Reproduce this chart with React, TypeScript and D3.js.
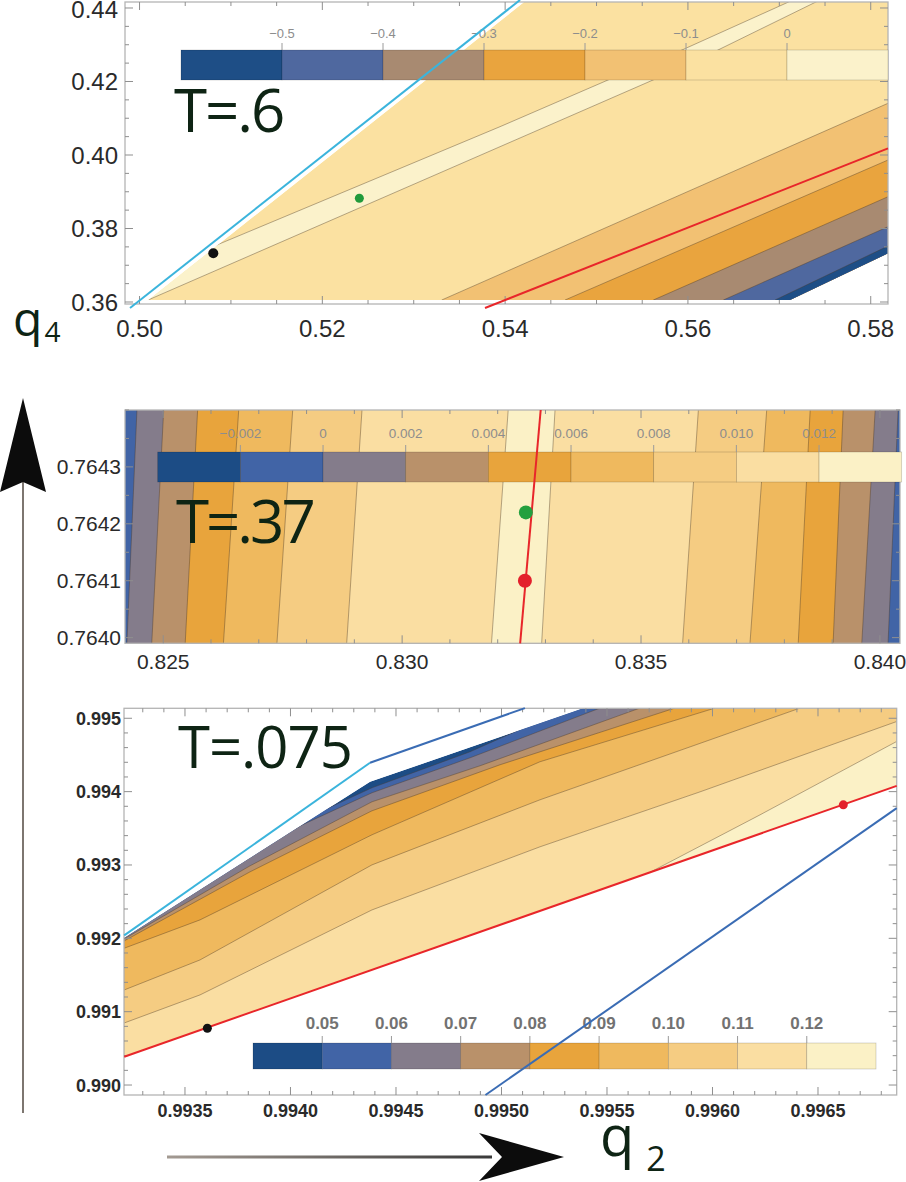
import React, { useRef, useEffect } from "react";
import * as d3 from "d3";

type Pt = [number, number];

const W = 906;
const H = 1182;

// contour palettes, dark blue -> pale yellow
const colors7 = ["#1e4e86", "#4f689f", "#a88a71", "#e9a43e", "#f2c173", "#fbe1a1", "#fbf2cb"];
const colors9 = ["#1c4c85", "#4164a6", "#847c8b", "#b9916a", "#e8a43c", "#efb95e", "#f5cc82", "#fadea2", "#fbf1c6"];

// ---------- T = .6 ----------
const topXTicks = [0.5, 0.52, 0.54, 0.56, 0.58];
const topYTicks = [0.36, 0.38, 0.4, 0.42, 0.44];
const topLevels = [-0.5, -0.4, -0.3, -0.2, -0.1, 0];
const topRegion: Pt[] = [
  [0.50096, 0.36054], [0.54207, 0.44163], [0.58189, 0.44163], [0.58189, 0.37325], [0.57117, 0.36054],
];
const topBands = [
  { c: 6, line: [[0.49787, 0.36452], [0.53944, 0.4077], [0.55126, 0.42041], [0.55935, 0.42857], [0.5715, 0.44218]] },
  { c: 5, line: [[0.50005, 0.35959], [0.53944, 0.40226], [0.55618, 0.42041], [0.56329, 0.42857], [0.57445, 0.44218]] },
  { c: 4, line: [[0.53306, 0.36054], [0.58189, 0.41407]] },
  { c: 3, line: [[0.54655, 0.36054], [0.58189, 0.39864]] },
  { c: 2, line: [[0.55621, 0.36054], [0.58189, 0.38865]] },
  { c: 1, line: [[0.56387, 0.36054], [0.58189, 0.38049]] },
  { c: 0, line: [[0.56953, 0.36054], [0.58189, 0.37524]] },
];
const topRed: Pt[] = [[0.5378, 0.35837], [0.58189, 0.40182]];
const topCyan: Pt[] = [[0.49896, 0.35837], [0.54163, 0.44218]];
const topBlackDot: Pt = [0.50807, 0.37325];
const topGreenDot: Pt = [0.52405, 0.38822];

// ---------- T = .37 ----------
const midXTicks = [0.825, 0.83, 0.835, 0.84];
const midYTicks = [0.764, 0.7641, 0.7642, 0.7643];
const midLevels = [-0.002, 0, 0.002, 0.004, 0.006, 0.008, 0.01, 0.012];
const midBottomQ2 = [0.82424, 0.82476, 0.82546, 0.82626, 0.82738, 0.82884, 0.83187, 0.83292, 0.83587, 0.83728, 0.83829, 0.83902, 0.83962, 0.84017];
const midTopQ2 = [0.82445, 0.82501, 0.82572, 0.82658, 0.82771, 0.82916, 0.83222, 0.8332, 0.8362, 0.83763, 0.83854, 0.83923, 0.8399, 0.84038];
const midRightColor = [2, 3, 4, 5, 6, 7, 8, 7, 6, 5, 4, 3, 2, 1];
const midRed: Pt[] = [[0.83247, 0.76399], [0.8329, 0.7644]];
const midGreenDot: Pt = [0.83259, 0.76422];
const midRedDot: Pt = [0.83257, 0.7641];

// ---------- T = .075 ----------
const botXTicks = [0.9935, 0.994, 0.9945, 0.995, 0.9955, 0.996, 0.9965];
const botYTicks = [0.99, 0.991, 0.992, 0.993, 0.994, 0.995];
const botLevels = [0.05, 0.06, 0.07, 0.08, 0.09, 0.1, 0.11, 0.12];
const botRegion: Pt[] = [
  [0.993212, 0.992005], [0.994377, 0.994134], [0.995391, 0.995139], [0.996873, 0.995139], [0.996873, 0.994079], [0.993212, 0.990386],
];
const botBands = [
  { c: 1, line: [[0.993212, 0.992183], [0.99414, 0.993724], [0.994386, 0.994052], [0.994851, 0.994543], [0.995277, 0.995089], [0.995348, 0.995139]] },
  { c: 2, line: [[0.993212, 0.992115], [0.994045, 0.993533], [0.994386, 0.993984], [0.994851, 0.994461], [0.995467, 0.995139]] },
  { c: 3, line: [[0.993212, 0.991992], [0.993808, 0.992988], [0.994386, 0.993861], [0.994898, 0.994352], [0.995656, 0.995139]] },
  { c: 4, line: [[0.993212, 0.991965], [0.993808, 0.992906], [0.994386, 0.993738], [0.994993, 0.994366], [0.995822, 0.995139]] },
  { c: 5, line: [[0.993212, 0.991865], [0.993571, 0.992251], [0.994386, 0.993411], [0.995182, 0.994407], [0.996012, 0.995139]] },
  { c: 6, line: [[0.993212, 0.991296], [0.993571, 0.991705], [0.994386, 0.993001], [0.995182, 0.993888], [0.996415, 0.995139]] },
  { c: 7, line: [[0.993212, 0.990846], [0.993571, 0.991228], [0.994386, 0.992387], [0.995182, 0.993247], [0.995941, 0.993997], [0.996873, 0.994956]] },
  { c: 8, line: [[0.995704, 0.9929], [0.996225, 0.993683], [0.996873, 0.994684]] },
];
const botRed: Pt[] = [[0.993212, 0.990386], [0.996873, 0.994079]];
const botCyan: Pt[] = [[0.993212, 0.99204], [0.994377, 0.994393]];
const botBlueUpper: Pt[] = [[0.994377, 0.994393], [0.995111, 0.995139]];
const botBlueLower: Pt[] = [[0.994924, 0.989864], [0.996873, 0.993775]];
const botBlackDot: Pt = [0.993606, 0.990774];
const botRedDot: Pt = [0.99662, 0.99382];

const tickFont = "'Liberation Sans', Arial, sans-serif";
const titleFont = "'Open Sans', 'Noto Sans', sans-serif";
const inkGreen = "#0e2414";

const noZero = (f) => (v) => (Math.abs(v) < 1e-12 ? "0" : f(v));

const midBands = midBottomQ2.map((b, i) => ({
  c: midRightColor[i],
  line: [[b, 0.76399], [midTopQ2[i], 0.7644]],
}));

const panels = [
  {
    id: "t06",
    box: { left: 125, right: 888, top: 2, bottom: 304 },
    xDomain: [0.49841, 0.58189], yDomain: [0.35946, 0.44163],
    xStep: 0.005, yStep: 0.005,
    xTicks: topXTicks, yTicks: topYTicks,
    xFmt: d3.format(".2f"), yFmt: d3.format(".2f"),
    labelFont: { size: 24, weight: "normal", xLabelY: 337, yLabelX: 118 },
    colors: colors7, base: 5, region: topRegion, bands: topBands,
    bar: { left: 181, right: 888, y: 50, h: 30, domain: [-0.6, 0.1], levels: topLevels, fmt: noZero(d3.format(".1f")), labelY: 38, size: 13, weight: "normal", color: "#8d8d8d" },
    lines: [
      { pts: topCyan, color: "#3bb4dc", w: 2 },
      { pts: topRed, color: "#e8262a", w: 2 },
    ],
    dots: [
      { p: topBlackDot, r: 5, fill: "#111" },
      { p: topGreenDot, r: 4.5, fill: "#219a3c" },
    ],
    title: { text: "T=.6", x: 174, y: 132, size: 60, spacing: -2 },
  },
  {
    id: "t037",
    box: { left: 125, right: 900, top: 410, bottom: 643.3 },
    xDomain: [0.8242, 0.84042], yDomain: [0.76399, 0.7644],
    xStep: 0.001, yStep: 0.00005,
    xTicks: midXTicks, yTicks: midYTicks,
    xFmt: d3.format(".3f"), yFmt: d3.format(".4f"),
    labelFont: { size: 21, weight: "normal", xLabelY: 669, yLabelX: 121 },
    colors: colors9, base: 1,
    region: [[0.8242, 0.76399], [0.8242, 0.7644], [0.84042, 0.7644], [0.84042, 0.76399]] as Pt[],
    bands: midBands,
    bar: { left: 157.7, right: 901.7, y: 452, h: 30, domain: [-0.004, 0.014], levels: midLevels, fmt: noZero(d3.format(".3f")), labelY: 438, size: 13.5, weight: "normal", color: "#8d8d8d" },
    lines: [{ pts: midRed, color: "#e8262a", w: 2 }],
    dots: [
      { p: midGreenDot, r: 7, fill: "#23a03e" },
      { p: midRedDot, r: 7, fill: "#e3202c" },
    ],
    title: { text: "T=.37", x: 176, y: 543, size: 60, spacing: -3 },
  },
  {
    id: "t0075",
    box: { left: 124, right: 896.7, top: 708.3, bottom: 1095 },
    xDomain: [0.993211, 0.996873], yDomain: [0.989864, 0.995136],
    xStep: 0.0001, yStep: 0.0002,
    xTicks: botXTicks, yTicks: botYTicks,
    xFmt: d3.format(".4f"), yFmt: d3.format(".3f"),
    labelFont: { size: 18, weight: "bold", xLabelY: 1117, yLabelX: 121 },
    colors: colors9, base: 0, region: botRegion, bands: botBands,
    bar: { left: 253, right: 876, y: 1043, h: 26, domain: [0.04, 0.13], levels: botLevels, fmt: d3.format(".2f"), labelY: 1029, size: 17, weight: "bold", color: "#727272" },
    lines: [
      { pts: botCyan, color: "#3bb4dc", w: 2 },
      { pts: botBlueUpper, color: "#3a6cb4", w: 2 },
      { pts: botBlueLower, color: "#3a6cb4", w: 2 },
      { pts: botRed, color: "#e8262a", w: 2 },
    ],
    dots: [
      { p: botBlackDot, r: 4.5, fill: "#111" },
      { p: botRedDot, r: 4.5, fill: "#e3202c" },
    ],
    title: { text: "T=.075", x: 178, y: 768, size: 58, spacing: -1 },
  },
];

function drawPanel(svg, defs, p) {
  const { left, right, top, bottom } = p.box;
  const [x0, x1] = p.xDomain;
  const [y0, y1] = p.yDomain;
  const x = d3.scaleLinear().domain(p.xDomain).range([left, right]);
  const y = d3.scaleLinear().domain(p.yDomain).range([bottom, top]);
  const line = d3.line<Pt>().x((d) => x(d[0])).y((d) => y(d[1]));

  // area right of / below a contour line, closed well outside the plot
  const closeBand = (pts: Pt[]): Pt[] => {
    const dx = x1 - x0;
    const dy = y1 - y0;
    const out = [...pts];
    const last = pts[pts.length - 1];
    if (last[1] >= y1 - 1e-7) out.push([x1 + dx, last[1]]);
    out.push([x1 + dx, y0 - dy]);
    out.push([pts[0][0], y0 - dy]);
    return out;
  };

  defs
    .append("clipPath")
    .attr("id", `region-${p.id}`)
    .append("path")
    .attr("d", line(p.region) + "Z");

  const g = svg.append("g");

  // filled contour bands
  const fills = g.append("g").attr("clip-path", `url(#region-${p.id})`);
  fills
    .append("path")
    .attr("d", line(p.region) + "Z")
    .attr("fill", p.colors[p.base]);
  p.bands.forEach((b) => {
    fills
      .append("path")
      .attr("d", line(closeBand(b.line)) + "Z")
      .attr("fill", p.colors[b.c]);
  });
  p.bands.forEach((b) => {
    fills
      .append("path")
      .attr("d", line(b.line))
      .attr("fill", "none")
      .attr("stroke", "#4a3a28")
      .attr("stroke-opacity", 0.45)
      .attr("stroke-width", 0.9);
  });

  // frame and ticks
  const frame = g.append("g");
  frame
    .append("rect")
    .attr("x", left)
    .attr("y", top)
    .attr("width", right - left)
    .attr("height", bottom - top)
    .attr("fill", "none")
    .attr("stroke", "#b4b4b4")
    .attr("stroke-width", 1.3);

  const steps = (a, b, s) => d3.range(Math.ceil(a / s - 1e-6), Math.floor(b / s + 1e-6) + 1).map((k) => k * s);
  const isMajor = (v, list) => list.some((t) => Math.abs(t - v) < 1e-9);
  steps(x0, x1, p.xStep).forEach((v) => {
    const len = isMajor(v, p.xTicks) ? 8 : 4;
    [bottom, top].forEach((edge, i) => {
      frame
        .append("line")
        .attr("x1", x(v))
        .attr("x2", x(v))
        .attr("y1", edge)
        .attr("y2", i === 0 ? edge - len : edge + len)
        .attr("stroke", "#8f8f8f")
        .attr("stroke-width", 1);
    });
  });
  steps(y0, y1, p.yStep).forEach((v) => {
    const len = isMajor(v, p.yTicks) ? 8 : 4;
    [left, right].forEach((edge, i) => {
      frame
        .append("line")
        .attr("y1", y(v))
        .attr("y2", y(v))
        .attr("x1", edge)
        .attr("x2", i === 0 ? edge + len : edge - len)
        .attr("stroke", "#8f8f8f")
        .attr("stroke-width", 1);
    });
  });

  const lf = p.labelFont;
  p.xTicks.forEach((t) => {
    g.append("text")
      .attr("x", x(t))
      .attr("y", lf.xLabelY)
      .attr("text-anchor", "middle")
      .attr("font-family", tickFont)
      .attr("font-size", lf.size)
      .attr("font-weight", lf.weight)
      .attr("fill", "#2a2a2a")
      .text(p.xFmt(t));
  });
  p.yTicks.forEach((t) => {
    g.append("text")
      .attr("x", lf.yLabelX)
      .attr("y", Math.max(y(t), 9))
      .attr("dy", "0.36em")
      .attr("text-anchor", "end")
      .attr("font-family", tickFont)
      .attr("font-size", lf.size)
      .attr("font-weight", lf.weight)
      .attr("fill", "#2a2a2a")
      .text(p.yFmt(t));
  });

  // colour legend bar
  const cb = p.bar;
  const bx = d3.scaleLinear().domain(cb.domain).range([cb.left, cb.right]);
  const edges = [cb.domain[0], ...cb.levels, cb.domain[1]];
  edges.slice(0, -1).forEach((e, i) => {
    g.append("rect")
      .attr("x", bx(e))
      .attr("y", cb.y)
      .attr("width", bx(edges[i + 1]) - bx(e))
      .attr("height", cb.h)
      .attr("fill", p.colors[i])
      .attr("stroke", "#000")
      .attr("stroke-opacity", 0.22)
      .attr("stroke-width", 0.7);
  });
  cb.levels.forEach((l) => {
    g.append("line")
      .attr("x1", bx(l))
      .attr("x2", bx(l))
      .attr("y1", cb.y - 7)
      .attr("y2", cb.y)
      .attr("stroke", "#9a9a9a")
      .attr("stroke-width", 1);
    g.append("text")
      .attr("x", bx(l))
      .attr("y", cb.labelY)
      .attr("text-anchor", "middle")
      .attr("font-family", tickFont)
      .attr("font-size", cb.size)
      .attr("font-weight", cb.weight)
      .attr("fill", cb.color)
      .text(cb.fmt(l));
  });

  // boundary curves and marked points
  p.lines.forEach((l) => {
    g.append("path")
      .attr("d", line(l.pts))
      .attr("fill", "none")
      .attr("stroke", l.color)
      .attr("stroke-width", l.w);
  });
  p.dots.forEach((d) => {
    g.append("circle")
      .attr("cx", x(d.p[0]))
      .attr("cy", y(d.p[1]))
      .attr("r", d.r)
      .attr("fill", d.fill);
  });

  g.append("text")
    .attr("x", p.title.x)
    .attr("y", p.title.y)
    .attr("font-family", titleFont)
    .attr("font-size", p.title.size)
    .attr("letter-spacing", p.title.spacing)
    .attr("fill", inkGreen)
    .text(p.title.text);
}

function drawAxesArrows(svg, defs) {
  const grad = defs
    .append("linearGradient")
    .attr("id", "shaft-h")
    .attr("gradientUnits", "userSpaceOnUse")
    .attr("x1", 167)
    .attr("x2", 492)
    .attr("y1", 0)
    .attr("y2", 0);
  grad.append("stop").attr("offset", "0%").attr("stop-color", "#a39a92");
  grad.append("stop").attr("offset", "100%").attr("stop-color", "#3a3a3a");

  // q4 arrow (vertical)
  svg
    .append("line")
    .attr("x1", 23)
    .attr("x2", 23)
    .attr("y1", 480)
    .attr("y2", 1113)
    .attr("stroke", "#7d7670")
    .attr("stroke-width", 2);
  svg
    .append("path")
    .attr("d", "M23,398 L46,492 L23,482 L0,492 Z")
    .attr("fill", "#0c0c0c");

  // q2 arrow (horizontal)
  svg
    .append("line")
    .attr("x1", 167)
    .attr("x2", 492)
    .attr("y1", 1157)
    .attr("y2", 1157)
    .attr("stroke", "url(#shaft-h)")
    .attr("stroke-width", 3);
  svg
    .append("path")
    .attr("d", "M564,1157 L479,1181 L502,1157 L479,1133 Z")
    .attr("fill", "#0c0c0c");

  const q4 = svg
    .append("text")
    .attr("x", 13)
    .attr("y", 336)
    .attr("font-family", titleFont)
    .attr("fill", inkGreen);
  q4.append("tspan").attr("font-size", 48).text("q");
  q4.append("tspan").attr("font-size", 28).attr("dy", 6).attr("dx", 2).text("4");

  const q2 = svg
    .append("text")
    .attr("x", 600)
    .attr("y", 1156)
    .attr("font-family", titleFont)
    .attr("fill", inkGreen);
  q2.append("tspan").attr("font-size", 56).text("q");
  q2.append("tspan").attr("font-size", 34).attr("dy", 15).attr("dx", 12).text("2");
}

const App = () => {
  const svgRef = useRef<SVGSVGElement>(null);

  useEffect(() => {
    const svg = d3.select(svgRef.current);
    svg.selectAll("*").remove();
    const defs = svg.append("defs");

    svg.append("rect").attr("width", W).attr("height", H).attr("fill", "#fff");
    panels.forEach((p) => drawPanel(svg, defs, p));
    drawAxesArrows(svg, defs);
  }, []);

  return (
    <svg
      ref={svgRef}
      width={W}
      height={H}
      style={{ position: "absolute", left: 0, top: 0, display: "block" }}
    ></svg>
  );
};

export default App;
